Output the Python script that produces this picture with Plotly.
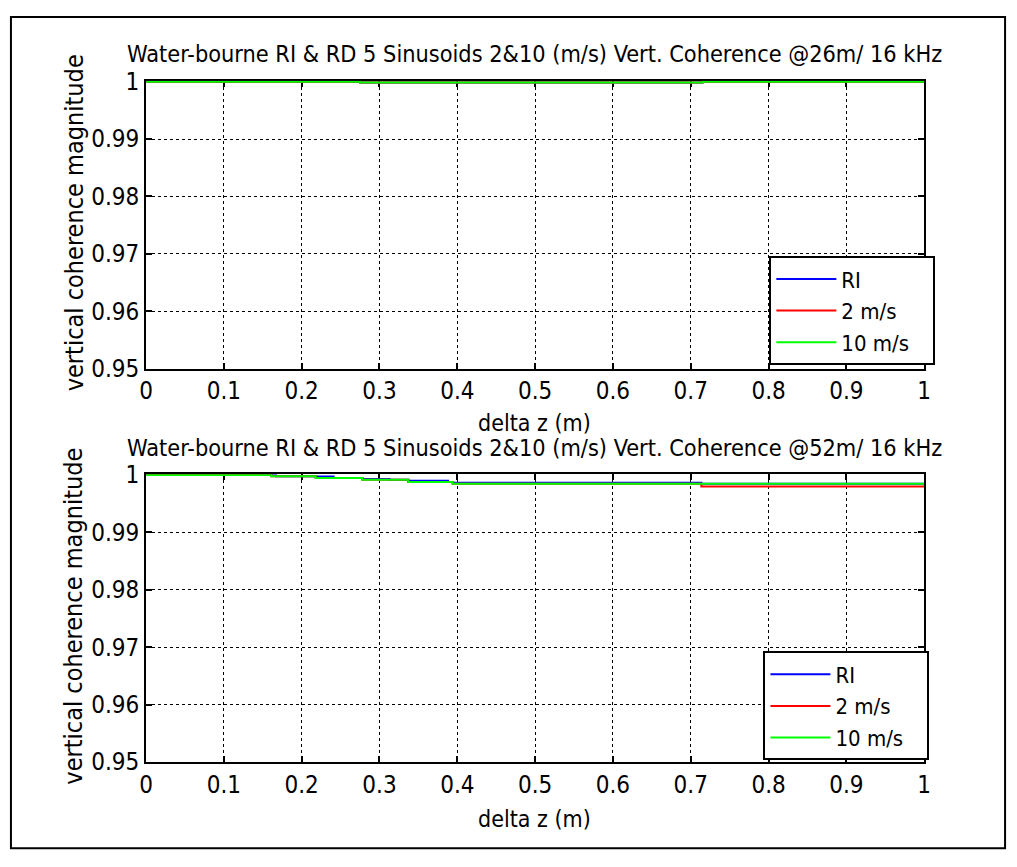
import plotly.graph_objects as go

# ---------------- data ----------------
# Top panel (@26 m)
top_ri_x = [0.0, 0.275, 0.715, 1.0]
top_ri_y = [1.0, 0.99985, 1.0, 1.0]
top_2_x = [0.0, 0.275, 0.715, 1.0]
top_2_y = [1.0, 0.99985, 1.0, 1.0]
top_10_x = [0.0, 0.275, 0.715, 1.0]
top_10_y = [1.0, 0.99985, 1.0, 1.0]

# Bottom panel (@52 m)
bot_ri_x = [0.0, 0.161, 0.167, 0.218, 0.241, 0.278, 0.313, 0.337, 0.388, 0.394, 0.7136, 1.0]
bot_ri_y = [1.0, 0.99995, 0.9998, 0.99975, 0.9995, 0.99932, 0.9992, 0.9990, 0.9988, 0.99865, 0.9985, 0.9985]
bot_2_x = [0.0, 0.161, 0.218, 0.278, 0.337, 0.394, 0.7136, 1.0]
bot_2_y = [1.0, 0.9998, 0.9995, 0.9992, 0.9988, 0.9985, 0.998, 0.998]
bot_10_x = [0.0, 0.161, 0.218, 0.278, 0.337, 0.394, 1.0]
bot_10_y = [1.0, 0.9998, 0.9995, 0.9992, 0.9988, 0.9985, 0.9985]

series_names = ["RI", "2 m/s", "10 m/s\u00a0\u00a0\u00a0"]
series_colors = ["#0000ff", "#ff0000", "#00ff00"]

x_ticks = [0, 0.1, 0.2, 0.3, 0.4, 0.5, 0.6, 0.7, 0.8, 0.9, 1]
x_tick_text = ["0", "0.1", "0.2", "0.3", "0.4", "0.5", "0.6", "0.7", "0.8", "0.9", "1"]
y_ticks = [0.95, 0.96, 0.97, 0.98, 0.99, 1.0]
y_tick_text = ["0.95", "0.96", "0.97", "0.98", "0.99", "1"]

titles = [
    "Water-bourne RI & RD 5 Sinusoids 2&10 (m/s) Vert. Coherence @26m/ 16 kHz",
    "Water-bourne RI & RD 5 Sinusoids 2&10 (m/s) Vert. Coherence @52m/ 16 kHz",
]
xlabel = "delta z (m)"
ylabel = "vertical coherence magnitude"

FONT = "DejaVu Sans Condensed, DejaVu Sans, Liberation Sans, Arial"
FS = 24
W, H = 1017, 867
YTOP = 1.00015  # tiny headroom so lines at 1 are not clipped by the plot area

fig = go.Figure()

top_sets = [(top_ri_x, top_ri_y), (top_2_x, top_2_y), (top_10_x, top_10_y)]
bot_sets = [(bot_ri_x, bot_ri_y), (bot_2_x, bot_2_y), (bot_10_x, bot_10_y)]

for (xs, ys), name, col in zip(top_sets, series_names, series_colors):
    fig.add_trace(go.Scatter(x=xs, y=ys, mode="lines", name=name,
                             line=dict(color=col, width=2, shape="hv"),
                             xaxis="x", yaxis="y", legend="legend"))
for (xs, ys), name, col in zip(bot_sets, series_names, series_colors):
    fig.add_trace(go.Scatter(x=xs, y=ys, mode="lines", name=name,
                             line=dict(color=col, width=2, shape="hv"),
                             xaxis="x2", yaxis="y2", legend="legend2"))

xd = [141 / W, 930 / W]
yd_top = [1 - 367 / H, 1 - 70 / H]
yd_bot = [1 - 773 / H, 1 - 476 / H]

axis_common = dict(
    showline=True, linecolor="black", linewidth=2, mirror="ticks",
    ticks="inside", ticklen=6, tickwidth=1.5, tickcolor="black",
    showgrid=True, gridcolor="black", gridwidth=1, griddash="3px,3px",
    zeroline=False, layer="below traces",
    tickfont=dict(family=FONT, size=FS, color="black"),
)

legend_common = dict(xanchor="left", yanchor="top", bgcolor="white",
                     bordercolor="black", borderwidth=2, itemwidth=60,
                     tracegroupgap=0,
                     font=dict(family=FONT, size=22, color="black"))

fig.update_layout(
    width=W, height=H,
    margin=dict(l=0, r=0, t=0, b=0),
    paper_bgcolor="white", plot_bgcolor="white",
    font=dict(family=FONT, size=FS, color="black"),
    xaxis=dict(domain=xd, range=[0, 1], tickvals=x_ticks, ticktext=x_tick_text,
               anchor="y", **axis_common),
    yaxis=dict(domain=yd_top, range=[0.95, YTOP], tickvals=y_ticks, ticktext=y_tick_text,
               anchor="x", **axis_common),
    xaxis2=dict(domain=xd, range=[0, 1], tickvals=x_ticks, ticktext=x_tick_text,
                anchor="y2", **axis_common),
    yaxis2=dict(domain=yd_bot, range=[0.95, YTOP], tickvals=y_ticks, ticktext=y_tick_text,
                anchor="x2", **axis_common),
    legend=dict(x=773 / W, y=1 - 251 / H, **legend_common),
    legend2=dict(x=767 / W, y=1 - 659 / H, **legend_common),
    showlegend=True,
)

ann = []
for t, yc in zip(titles, [42, 448]):
    ann.append(dict(text=t, x=535 / W, y=1 - yc / H, xref="paper", yref="paper",
                    xanchor="center", yanchor="middle", showarrow=False,
                    font=dict(family=FONT, size=23.3, color="black")))
for yc in [423, 832]:
    ann.append(dict(text=xlabel, x=535 / W, y=1 - yc / H, xref="paper", yref="paper",
                    xanchor="center", yanchor="middle", showarrow=False,
                    font=dict(family=FONT, size=23, color="black")))
for yc in [217, 623]:
    ann.append(dict(text=ylabel, x=68 / W, y=1 - yc / H, xref="paper", yref="paper",
                    xanchor="center", yanchor="middle", showarrow=False, textangle=-90,
                    font=dict(family=FONT, size=25, color="black")))
fig.update_layout(annotations=ann)

fig.add_shape(type="rect", xref="paper", yref="paper",
              x0=4 / W, x1=1012 / W, y0=1 - 862 / H, y1=1 - 4 / H,
              line=dict(color="black", width=2), fillcolor="rgba(0,0,0,0)")

fig.write_html("out.html")
